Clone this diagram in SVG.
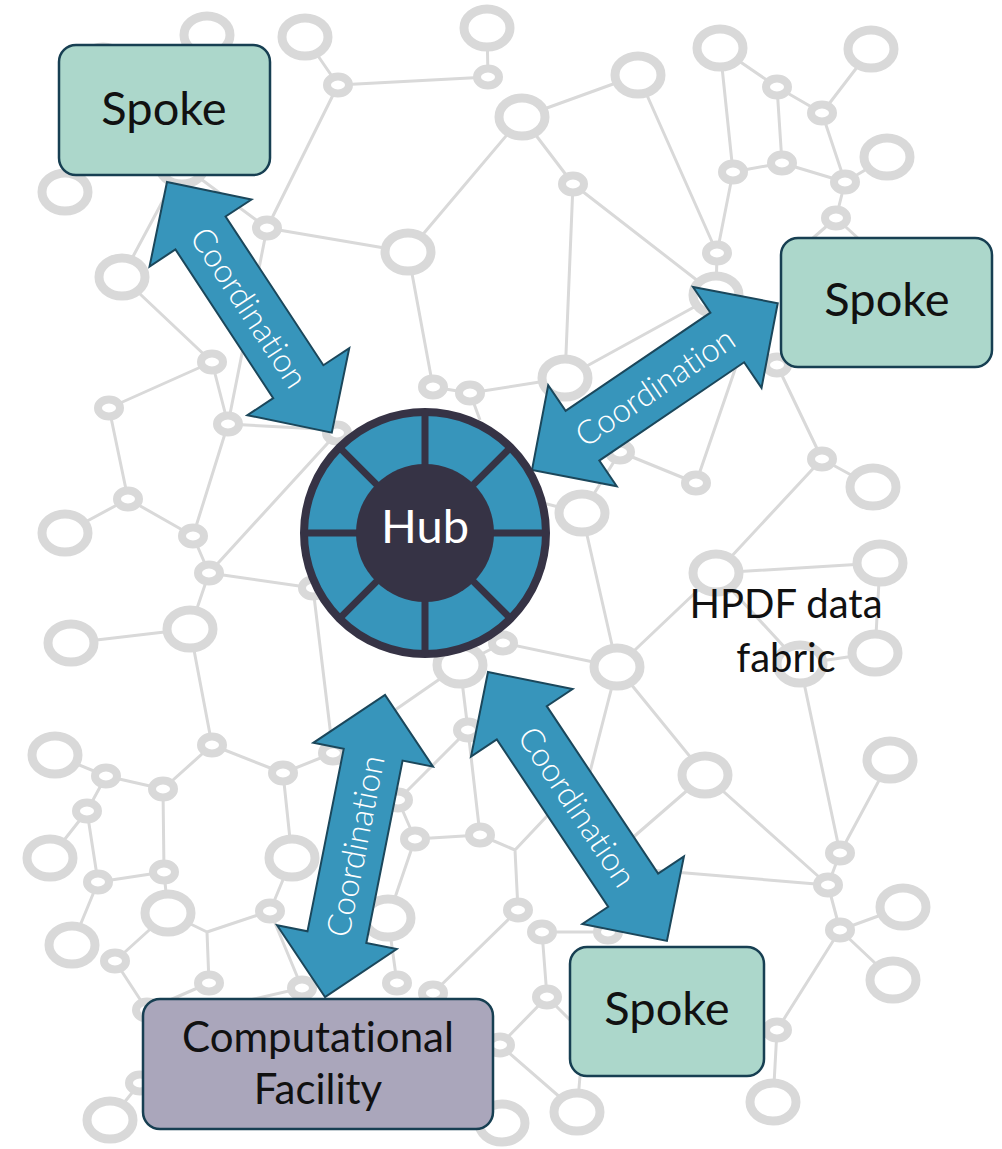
<svg xmlns="http://www.w3.org/2000/svg" width="1002" height="1149" viewBox="0 0 1002 1149">
<style>
.ln{fill:none;stroke:#d9d9d9;stroke-width:3}
.b{fill:#fff;stroke:#d9d9d9;stroke-width:9}
.s{fill:#fff;stroke:#d9d9d9;stroke-width:8}
.arr{fill:#3795bb;stroke:#1b475b;stroke-width:2;stroke-linejoin:miter}
text{font-family:Lato,"Noto Sans",sans-serif;font-weight:400;font-variant-ligatures:none;text-anchor:middle}
.at{fill:#fff;font-size:33px;font-weight:300}
.box{stroke:#173f52;stroke-width:2.5}
.spoke{fill:#acd7cb}
.comp{fill:#aaa6bb}
.lbl{fill:#111}
</style>
<g id="fabric">
<path class="ln" d="M305,37L338,85 M338,85L488,77 M338,85L267,228 M487,28L488,77 M522,117L638,75 M522,117L573,184 M522,117L408,252 M573,184L565,378 M573,184L716,295 M638,75L717,253 M720,48L733,172 M720,48L777,87 M777,87L822,113 M777,87L782,163 M733,172L782,163 M782,163L845,182 M822,113L845,182 M871,49L822,113 M845,182L887,157 M845,182L836,218 M836,218L805,245 M836,218L860,240 M733,172L717,253 M717,253L716,295 M267,228L408,252 M267,228L182,165 M267,228L228,424 M122,277L182,165 M122,277L212,362 M212,362L109,408 M212,362L228,424 M408,252L433,387 M433,387L470,393 M470,393L565,378 M470,393L480,420 M565,378L716,295 M228,424L320,429 M109,408L128,499 M128,499L65,533 M128,499L193,536 M193,536L228,424 M193,536L209,573 M209,573L337,433 M209,573L313,588 M209,573L190,629 M190,629L71,643 M190,629L212,745 M313,588L333,753 M212,745L283,773 M212,745L163,789 M283,773L333,753 M460,665L333,753 M460,665L468,730 M460,665L503,643 M503,643L617,667 M468,730L398,800 M468,730L480,835 M398,800L415,839 M415,839L480,835 M415,839L388,918 M388,918L397,983 M480,835L515,850 M515,850L518,910 M515,850L548,815 M433,993L518,910 M542,932L608,932 M542,932L547,997 M547,997L500,1045 M547,997L572,1022 M500,1045L577,1112 M577,1112L580,1076 M617,667L705,775 M617,667L716,573 M617,667L582,513 M617,667L575,830 M582,513L543,503 M582,513L620,452 M620,452L696,483 M696,483L752,320 M716,573L800,664 M716,573L880,563 M800,664L875,653 M800,664L840,853 M880,563L875,653 M873,487L822,459 M822,459L777,365 M822,459L716,573 M890,760L840,853 M705,775L828,885 M705,775L630,840 M840,853L828,885 M828,885L840,930 M828,885L650,870 M840,930L903,907 M840,930L893,980 M840,930L777,1030 M777,1030L773,1102 M55,755L106,776 M106,776L163,789 M106,776L87,811 M87,811L50,858 M87,811L98,882 M98,882L164,872 M164,872L163,789 M164,872L168,913 M98,882L72,945 M168,913L115,961 M115,961L147,1010 M168,913L207,932 M207,932L270,911 M207,932L209,983 M209,983L147,1010 M270,911L292,858 M292,858L283,773 M270,911L302,988 M302,988L250,1000 M140,1083L110,1120"/>
<g>
<ellipse class="b" cx="103" cy="66" rx="23" ry="19"/>
<ellipse class="b" cx="207" cy="35" rx="23" ry="19"/>
<ellipse class="b" cx="305" cy="37" rx="23" ry="19"/>
<ellipse class="b" cx="487" cy="28" rx="23" ry="19"/>
<ellipse class="b" cx="522" cy="117" rx="23" ry="19"/>
<ellipse class="b" cx="638" cy="75" rx="23" ry="19"/>
<ellipse class="b" cx="720" cy="48" rx="23" ry="19"/>
<ellipse class="b" cx="871" cy="49" rx="23" ry="19"/>
<ellipse class="b" cx="887" cy="157" rx="23" ry="19"/>
<ellipse class="b" cx="716" cy="295" rx="23" ry="19"/>
<ellipse class="b" cx="408" cy="252" rx="23" ry="19"/>
<ellipse class="b" cx="182" cy="165" rx="23" ry="19"/>
<ellipse class="b" cx="65" cy="192" rx="23" ry="19"/>
<ellipse class="b" cx="122" cy="277" rx="23" ry="19"/>
<ellipse class="b" cx="565" cy="378" rx="23" ry="19"/>
<ellipse class="b" cx="873" cy="487" rx="23" ry="19"/>
<ellipse class="b" cx="582" cy="513" rx="23" ry="19"/>
<ellipse class="b" cx="716" cy="573" rx="23" ry="19"/>
<ellipse class="b" cx="880" cy="563" rx="23" ry="19"/>
<ellipse class="b" cx="875" cy="653" rx="23" ry="19"/>
<ellipse class="b" cx="617" cy="667" rx="23" ry="19"/>
<ellipse class="b" cx="705" cy="775" rx="23" ry="19"/>
<ellipse class="b" cx="890" cy="760" rx="23" ry="19"/>
<ellipse class="b" cx="800" cy="664" rx="23" ry="19"/>
<ellipse class="b" cx="65" cy="533" rx="23" ry="19"/>
<ellipse class="b" cx="190" cy="629" rx="23" ry="19"/>
<ellipse class="b" cx="71" cy="643" rx="23" ry="19"/>
<ellipse class="b" cx="55" cy="755" rx="23" ry="19"/>
<ellipse class="b" cx="460" cy="665" rx="23" ry="19"/>
<ellipse class="b" cx="50" cy="858" rx="23" ry="19"/>
<ellipse class="b" cx="168" cy="913" rx="23" ry="19"/>
<ellipse class="b" cx="72" cy="945" rx="23" ry="19"/>
<ellipse class="b" cx="292" cy="858" rx="23" ry="19"/>
<ellipse class="b" cx="388" cy="918" rx="23" ry="19"/>
<ellipse class="b" cx="110" cy="1120" rx="23" ry="19"/>
<ellipse class="b" cx="903" cy="907" rx="23" ry="19"/>
<ellipse class="b" cx="893" cy="980" rx="23" ry="19"/>
<ellipse class="b" cx="773" cy="1102" rx="23" ry="19"/>
<ellipse class="b" cx="577" cy="1112" rx="23" ry="19"/>
<ellipse class="b" cx="502" cy="1123" rx="23" ry="19"/>
</g>
<g>
<ellipse class="s" cx="338" cy="85" rx="11" ry="8.5"/>
<ellipse class="s" cx="488" cy="77" rx="11" ry="8.5"/>
<ellipse class="s" cx="573" cy="184" rx="11" ry="8.5"/>
<ellipse class="s" cx="777" cy="87" rx="11" ry="8.5"/>
<ellipse class="s" cx="822" cy="113" rx="11" ry="8.5"/>
<ellipse class="s" cx="733" cy="172" rx="11" ry="8.5"/>
<ellipse class="s" cx="782" cy="163" rx="11" ry="8.5"/>
<ellipse class="s" cx="845" cy="182" rx="11" ry="8.5"/>
<ellipse class="s" cx="836" cy="218" rx="11" ry="8.5"/>
<ellipse class="s" cx="717" cy="253" rx="11" ry="8.5"/>
<ellipse class="s" cx="267" cy="228" rx="11" ry="8.5"/>
<ellipse class="s" cx="212" cy="362" rx="11" ry="8.5"/>
<ellipse class="s" cx="433" cy="387" rx="11" ry="8.5"/>
<ellipse class="s" cx="470" cy="393" rx="11" ry="8.5"/>
<ellipse class="s" cx="777" cy="365" rx="11" ry="8.5"/>
<ellipse class="s" cx="620" cy="452" rx="11" ry="8.5"/>
<ellipse class="s" cx="696" cy="483" rx="11" ry="8.5"/>
<ellipse class="s" cx="822" cy="459" rx="11" ry="8.5"/>
<ellipse class="s" cx="503" cy="643" rx="11" ry="8.5"/>
<ellipse class="s" cx="109" cy="408" rx="11" ry="8.5"/>
<ellipse class="s" cx="228" cy="424" rx="11" ry="8.5"/>
<ellipse class="s" cx="128" cy="499" rx="11" ry="8.5"/>
<ellipse class="s" cx="193" cy="536" rx="11" ry="8.5"/>
<ellipse class="s" cx="209" cy="573" rx="11" ry="8.5"/>
<ellipse class="s" cx="337" cy="433" rx="11" ry="8.5"/>
<ellipse class="s" cx="313" cy="588" rx="11" ry="8.5"/>
<ellipse class="s" cx="468" cy="730" rx="11" ry="8.5"/>
<ellipse class="s" cx="333" cy="753" rx="11" ry="8.5"/>
<ellipse class="s" cx="212" cy="745" rx="11" ry="8.5"/>
<ellipse class="s" cx="106" cy="776" rx="11" ry="8.5"/>
<ellipse class="s" cx="163" cy="789" rx="11" ry="8.5"/>
<ellipse class="s" cx="283" cy="773" rx="11" ry="8.5"/>
<ellipse class="s" cx="87" cy="811" rx="11" ry="8.5"/>
<ellipse class="s" cx="98" cy="882" rx="11" ry="8.5"/>
<ellipse class="s" cx="164" cy="872" rx="11" ry="8.5"/>
<ellipse class="s" cx="115" cy="961" rx="11" ry="8.5"/>
<ellipse class="s" cx="209" cy="983" rx="11" ry="8.5"/>
<ellipse class="s" cx="270" cy="911" rx="11" ry="8.5"/>
<ellipse class="s" cx="302" cy="988" rx="11" ry="8.5"/>
<ellipse class="s" cx="397" cy="983" rx="11" ry="8.5"/>
<ellipse class="s" cx="433" cy="993" rx="11" ry="8.5"/>
<ellipse class="s" cx="415" cy="839" rx="11" ry="8.5"/>
<ellipse class="s" cx="398" cy="800" rx="11" ry="8.5"/>
<ellipse class="s" cx="480" cy="835" rx="11" ry="8.5"/>
<ellipse class="s" cx="147" cy="1010" rx="11" ry="8.5"/>
<ellipse class="s" cx="140" cy="1083" rx="11" ry="8.5"/>
<ellipse class="s" cx="840" cy="853" rx="11" ry="8.5"/>
<ellipse class="s" cx="828" cy="885" rx="11" ry="8.5"/>
<ellipse class="s" cx="840" cy="930" rx="11" ry="8.5"/>
<ellipse class="s" cx="777" cy="1030" rx="11" ry="8.5"/>
<ellipse class="s" cx="518" cy="910" rx="11" ry="8.5"/>
<ellipse class="s" cx="542" cy="932" rx="11" ry="8.5"/>
<ellipse class="s" cx="547" cy="997" rx="11" ry="8.5"/>
<ellipse class="s" cx="608" cy="932" rx="11" ry="8.5"/>
<ellipse class="s" cx="500" cy="1045" rx="11" ry="8.5"/>
</g>
</g>
<g id="connectors">
<g transform="translate(167,182) rotate(56.68)">
<polygon class="arr" points="0,0 61,-61 61,-30 239,-30 239,-61 300,0 239,61 239,30 61,30 61,61"/>
<text class="at" x="150" y="12">Coordination</text>
</g>
<g transform="translate(532,470) rotate(-34.17)">
<polygon class="arr" points="0,0 61,-61 61,-30 236,-30 236,-61 297,0 236,61 236,30 61,30 61,61"/>
<text class="at" x="148.5" y="12">Coordination</text>
</g>
<g transform="translate(325,997) rotate(-78.76)">
<polygon class="arr" points="0,0 61,-61 61,-30 247,-30 247,-61 308,0 247,61 247,30 61,30 61,61"/>
<text class="at" x="154" y="12">Coordination</text>
</g>
<g transform="translate(488,672) rotate(56.36)">
<polygon class="arr" points="0,0 61,-61 61,-30 262,-30 262,-61 323,0 262,61 262,30 61,30 61,61"/>
<text class="at" x="161.5" y="12">Coordination</text>
</g>
</g>
<g id="hub">
<circle cx="425" cy="533" r="121" fill="#3795bb" stroke="#363345" stroke-width="8"/>
<path d="M493,533L546,533 M425,601L425,654 M357,533L304,533 M425,465L425,412 M473.1,581.1L510.6,618.6 M376.9,581.1L339.4,618.6 M376.9,484.9L339.4,447.4 M473.1,484.9L510.6,447.4" stroke="#363345" stroke-width="7"/>
<circle cx="425" cy="533" r="69" fill="#363345"/>
<text x="425" y="543" fill="#fff" font-size="47" font-weight="300">Hub</text>
</g>
<g id="spoke-top">
<rect class="box spoke" x="59" y="45" width="211" height="130" rx="17"/>
<text class="lbl" x="164" y="125" font-size="47">Spoke</text>
</g>
<g id="spoke-right">
<rect class="box spoke" x="781" y="238" width="211" height="129" rx="17"/>
<text class="lbl" x="887" y="316" font-size="47">Spoke</text>
</g>
<g id="spoke-bottom">
<rect class="box spoke" x="570" y="947" width="194" height="129" rx="17"/>
<text class="lbl" x="667" y="1025" font-size="47">Spoke</text>
</g>
<g id="computational-facility">
<rect class="box comp" x="143" y="999" width="350" height="130" rx="17"/>
<text class="lbl" x="318" y="1052" font-size="42">Computational</text>
<text class="lbl" x="318" y="1104" font-size="42">Facility</text>
</g>
<g id="fabric-label">
<text class="lbl" x="786" y="618" font-size="40">HPDF data</text>
<text class="lbl" x="786" y="672" font-size="40">fabric</text>
</g>
</svg>
